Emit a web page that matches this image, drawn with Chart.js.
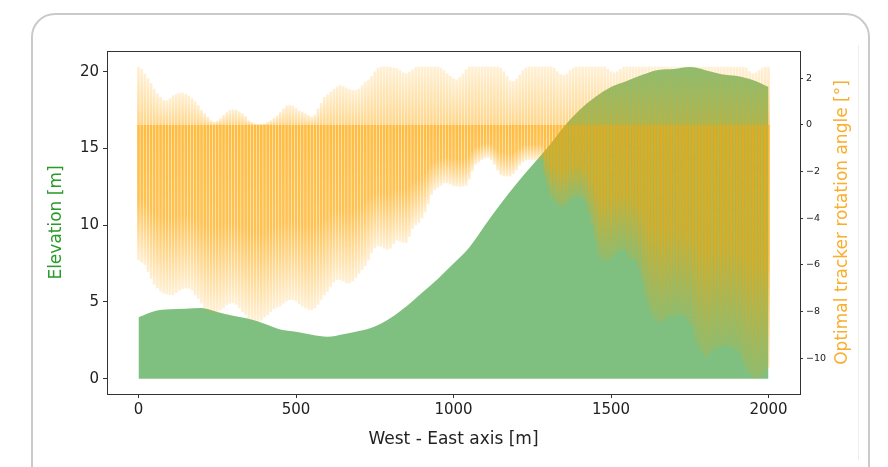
<!DOCTYPE html>
<html><head><meta charset="utf-8">
<script src="https://cdn.jsdelivr.net/npm/chart.js@4.4.1/dist/chart.umd.min.js"></script>
<style>
html,body{margin:0;padding:0;background:#fff;width:888px;height:467px;overflow:hidden;}
#card{position:absolute;left:31px;top:13px;width:839px;height:480px;border:2px solid #cacaca;border-radius:24px;box-sizing:border-box;}
#rule{position:absolute;left:858px;top:45px;width:1px;height:415px;background:#eeeeee;}
canvas{position:absolute;left:0;top:0;}
</style></head><body>
<div id="card"></div><div id="rule"></div>
<canvas id="c" width="888" height="467"></canvas>
<script>
// ---- categories / data ----
const elevX = [0,50,100,150,200,250,300,350,400,450,500,550,600,650,700,750,800,850,900,950,
  1000,1050,1100,1150,1200,1250,1300,1350,1400,1450,1500,1550,1600,1650,1700,1750,1800,1850,1900,1950,2000];
const elevation = [4.0,4.4,4.52,4.56,4.6,4.35,4.1,3.9,3.58,3.2,3.06,2.86,2.73,2.9,3.1,3.4,3.95,4.7,5.6,6.5,
  7.5,8.55,10.0,11.4,12.7,13.9,15.1,16.4,17.5,18.35,19.0,19.4,19.8,20.12,20.18,20.3,20.1,19.84,19.72,19.46,19.0];

const barX = Array.from({length: 201}, (_, i) => i * 10);
const angleMax = [
  2.5,2.4,2.2,2.0,1.8,1.55,1.35,1.2,1.07,1.05,
  1.15,1.27,1.33,1.37,1.38,1.33,1.25,1.15,1.02,0.85,
  0.65,0.5,0.35,0.2,0.14,0.18,0.28,0.42,0.55,0.64,
  0.67,0.65,0.58,0.5,0.38,0.2,0.12,0.06,0.04,0.04,
  0.06,0.12,0.2,0.3,0.4,0.55,0.7,0.82,0.86,0.82,
  0.72,0.62,0.57,0.5,0.42,0.36,0.45,0.7,0.95,1.2,
  1.32,1.42,1.55,1.65,1.71,1.68,1.6,1.54,1.5,1.5,
  1.55,1.7,1.85,1.95,2.1,2.3,2.45,2.5,2.5,2.5,
  2.48,2.45,2.43,2.35,2.25,2.21,2.28,2.38,2.48,2.5,
  2.5,2.5,2.5,2.5,2.5,2.5,2.45,2.35,2.22,2.1,
  2.0,1.95,2.05,2.2,2.38,2.5,2.5,2.5,2.5,2.5,
  2.5,2.5,2.5,2.5,2.5,2.45,2.3,2.1,1.9,1.88,
  1.98,2.15,2.35,2.45,2.5,2.5,2.5,2.5,2.5,2.5,
  2.5,2.5,2.45,2.3,2.18,2.14,2.2,2.35,2.45,2.5,
  2.5,2.5,2.5,2.5,2.5,2.5,2.5,2.5,2.5,2.4,
  2.3,2.25,2.3,2.4,2.5,2.5,2.5,2.5,2.5,2.5,
  2.5,2.5,2.5,2.5,2.5,2.5,2.5,2.5,2.5,2.5,
  2.5,2.5,2.5,2.5,2.5,2.5,2.5,2.5,2.5,2.5,
  2.5,2.5,2.5,2.5,2.5,2.5,2.5,2.5,2.5,2.5,
  2.5,2.5,2.5,2.45,2.3,2.21,2.25,2.35,2.45,2.5,
  2.5];
const angleMin = [
  -5.8,-5.9,-6.0,-6.3,-6.6,-6.85,-7.0,-7.15,-7.22,-7.26,
  -7.29,-7.29,-7.2,-7.1,-7.03,-7.0,-7.02,-7.1,-7.3,-7.45,
  -7.65,-7.85,-7.98,-8.05,-8.07,-8.03,-7.95,-7.85,-7.73,-7.66,
  -7.64,-7.7,-7.85,-8.02,-8.15,-8.28,-8.37,-8.42,-8.43,-8.38,
  -8.25,-8.15,-8.02,-7.9,-7.82,-7.77,-7.65,-7.56,-7.51,-7.5,
  -7.55,-7.68,-7.78,-7.86,-7.92,-7.93,-7.85,-7.7,-7.5,-7.3,
  -7.15,-6.95,-6.75,-6.64,-6.64,-6.7,-6.78,-6.79,-6.7,-6.55,
  -6.38,-6.22,-6.05,-5.8,-5.5,-5.28,-5.2,-5.22,-5.3,-5.35,
  -5.3,-5.1,-4.95,-5.0,-5.05,-5.05,-4.8,-4.45,-4.3,-4.2,
  -4.0,-3.75,-3.4,-3.0,-2.79,-2.7,-2.6,-2.5,-2.5,-2.55,
  -2.62,-2.64,-2.65,-2.64,-2.6,-2.35,-2.0,-1.7,-1.6,-1.5,
  -1.43,-1.4,-1.5,-1.7,-1.95,-2.15,-2.2,-2.21,-2.2,-2.1,
  -1.95,-1.75,-1.6,-1.52,-1.5,-1.5,-1.5,-1.5,-1.52,-2.2,
  -2.7,-3.1,-3.25,-3.4,-3.5,-3.5,-3.4,-3.22,-3.12,-3.07,
  -3.07,-3.15,-3.4,-3.8,-4.3,-4.9,-5.5,-5.75,-5.8,-5.8,
  -5.75,-5.6,-5.45,-5.36,-5.4,-5.5,-5.7,-5.79,-5.85,-6.2,
  -6.7,-7.3,-7.8,-8.1,-8.3,-8.4,-8.45,-8.35,-8.25,-8.2,
  -8.2,-8.15,-8.12,-8.2,-8.3,-8.45,-8.7,-9.2,-9.55,-9.75,
  -9.9,-9.85,-9.7,-9.6,-9.52,-9.48,-9.45,-9.45,-9.5,-9.58,
  -9.64,-9.8,-10.1,-10.45,-10.6,-10.8,-10.86,-10.8,-10.7,-10.6,
  -10.4];
const xTickValues = [0, 500, 1000, 1500, 2000];
const leftTickValues = [0, 5, 10, 15, 20];
const rightTickValues = [-10, -8, -6, -4, -2, 0, 2];
const xTitle = 'West - East axis [m]';
const leftTitle = 'Elevation [m]';
const rightTitle = 'Optimal tracker rotation angle [°]';

// ---- styling ----
const FONT = 'DejaVu Sans';
Chart.defaults.font.family = FONT;
const ORANGE = 'rgba(255,165,0,';

function angleFill(ctx) {
  const chart = ctx.chart;
  const sc = chart.scales && chart.scales.y2;
  if (ctx.type !== 'data' || !sc || !chart.chartArea || !ctx.raw) return ORANGE + '0.6)';
  const v = ctx.raw.y;
  const top = sc.getPixelForValue(v[1]);
  const bot = sc.getPixelForValue(v[0]);
  const zero = sc.getPixelForValue(0);
  const h = bot - top;
  if (!(h > 1)) return ORANGE + '0.6)';
  const g = chart.ctx.createLinearGradient(0, top, 0, bot);
  const z = Math.min(Math.max((zero - top) / h, 0.001), 0.998);
  g.addColorStop(0, ORANGE + '0.16)');
  g.addColorStop(z * 0.999, ORANGE + '0.46)');
  g.addColorStop(z, ORANGE + '0.74)');
  g.addColorStop(z + (1 - z) * 0.55, ORANGE + '0.68)');
  g.addColorStop(1, ORANGE + '0.16)');
  return g;
}

function fixedTicks(values) {
  return function (s) { s.ticks = values.map(v => ({value: v})); };
}

const rightTitlePlugin = {
  id: 'rightTitle',
  afterDraw(chart) {
    const c = chart.ctx, a = chart.chartArea;
    c.save();
    c.translate(843, (a.top + a.bottom) / 2);
    c.rotate(-Math.PI / 2);
    c.font = '17px "' + FONT + '"';
    c.fillStyle = '#f9ae2e';
    c.textAlign = 'center';
    c.textBaseline = 'middle';
    c.fillText(rightTitle, 0, 0);
    c.restore();
  }
};

const axisCol = '#333333';
const plainLabel = v => String(v);
new Chart(document.getElementById('c'), {
  type: 'bar',
  data: {
    datasets: [
      {
        type: 'bar',
        label: 'angle',
        data: barX.map((x, i) => ({x: x, y: [angleMin[i], angleMax[i]]})),
        xAxisID: 'x', yAxisID: 'y2',
        backgroundColor: angleFill,
        borderWidth: 0,
        barPercentage: 0.85,
        categoryPercentage: 1,
        order: 0
      },
      {
        type: 'line',
        label: 'elevation',
        data: elevX.map((x, i) => ({x: x, y: elevation[i]})),
        xAxisID: 'x', yAxisID: 'y',
        fill: 'origin',
        backgroundColor: 'rgba(0,128,0,0.5)',
        borderColor: 'rgba(0,128,0,0)',
        borderWidth: 0,
        pointRadius: 0,
        cubicInterpolationMode: 'monotone',
        order: 1
      }
    ]
  },
  options: {
    responsive: false,
    animation: false,
    events: [],
    layout: {padding: {top: 51, left: 0, right: 0, bottom: 0}},
    plugins: {legend: {display: false}, tooltip: {enabled: false}},
    scales: {
      x: {
        type: 'linear', position: 'bottom', min: -100, max: 2100, offset: false,
        afterBuildTicks: fixedTicks(xTickValues),
        ticks: {color: '#222', font: {size: 15}, padding: 3, maxRotation: 0, autoSkip: false, callback: plainLabel},
        grid: {display: true, drawOnChartArea: false, offset: false, tickLength: 4, color: axisCol},
        border: {display: true, color: axisCol, width: 1},
        title: {display: true, text: xTitle, color: '#222', font: {size: 17}, padding: {top: 0, bottom: 17}},
        afterFit(s) { s.height = 73; }
      },
      xTop: {
        type: 'linear', position: 'top', min: -100, max: 2100, offset: false,
        ticks: {display: false},
        grid: {display: false},
        border: {display: true, color: axisCol, width: 1},
        afterFit(s) { s.height = 0; }
      },
      y: {
        type: 'linear', position: 'left', min: -1.0, max: 21.35,
        afterBuildTicks: fixedTicks(leftTickValues),
        ticks: {color: '#222', font: {size: 15}, padding: 4, autoSkip: false, callback: plainLabel},
        grid: {display: true, drawOnChartArea: false, tickLength: 4, color: axisCol},
        border: {display: true, color: axisCol, width: 1},
        title: {display: true, text: leftTitle, color: '#2a9a2a', font: {size: 17}, padding: {top: 46, bottom: 0}},
        afterFit(s) { s.width = 107; }
      },
      y2: {
        type: 'linear', position: 'right', min: -11.53, max: 3.17,
        afterBuildTicks: fixedTicks(rightTickValues),
        ticks: {color: '#222', font: {size: 9.5}, padding: 3, autoSkip: false,
          callback: v => String(v).replace('-', '\u2212')},
        grid: {display: true, drawOnChartArea: false, tickLength: 3, color: axisCol},
        border: {display: true, color: axisCol, width: 1},
        afterFit(s) { s.width = 88; }
      }
    }
  },
  plugins: [rightTitlePlugin]
});
</script></body></html>
